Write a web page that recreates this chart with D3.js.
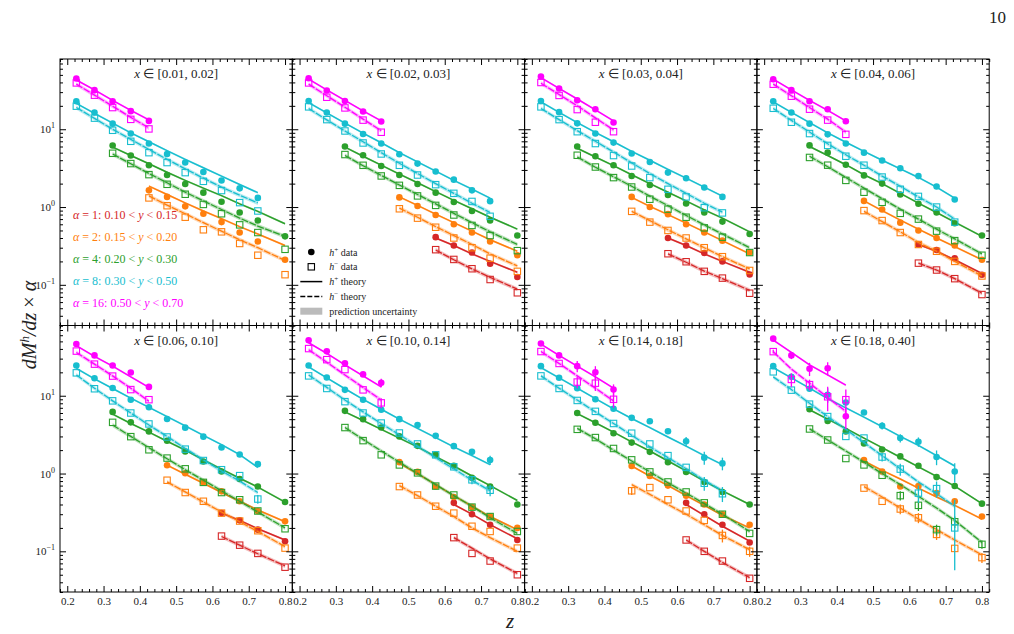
<!DOCTYPE html>
<html>
<head>
<meta charset="utf-8">
<script src="https://cdn.jsdelivr.net/npm/d3@7"></script>
<style>
  body { margin: 0; background: #fff; }
  svg text { font-family: "Liberation Serif", "Times New Roman", serif; fill: #222; }
</style>
</head>
<body>
<svg id="chart"></svg>
<script>
// z bin centres shared by all panels
const zBins = [0.225, 0.275, 0.325, 0.375, 0.425, 0.475, 0.525, 0.575, 0.625, 0.675, 0.725, 0.8];
const alphaColors = ["#d62728", "#ff7f0e", "#2ca02c", "#17becf", "#ff00ff"];
const alphaNames = ["1", "2", "4", "8", "16"];
const yLow = ["0.10", "0.15", "0.20", "0.30", "0.50"];
const yHigh = ["0.15", "0.20", "0.30", "0.50", "0.70"];
const panelTitles = ["[0.01, 0.02]", "[0.02, 0.03]", "[0.03, 0.04]", "[0.04, 0.06]",
                     "[0.06, 0.10]", "[0.10, 0.14]", "[0.14, 0.18]", "[0.18, 0.40]"];
const xTickLabels = ["0.2", "0.3", "0.4", "0.5", "0.6", "0.7", "0.8"];

// rows: [alpha index, first z bin, h+ data, h- data, h+ theory, h- theory, h+ err, h- err]
// an error entry is either a symmetric value or [down, up]
const panel1 = [
  [1, 4, [1.64,1.35,1.02,0.82,0.64,0.47,0.36,0.21], [1.31,1.04,0.74,0.51,0.48,0.34,0.24,0.135],
         [1.86,1.45,1.13,0.89,0.71,0.56,0.45,0.32], [1.39,1.06,0.82,0.63,0.49,0.38,0.30,0.206]],
  [2, 2, [6.17,4.59,3.44,2.58,1.98,1.53,1.17,0.85,0.67,0.42], [4.91,3.62,2.61,1.96,1.46,1.08,0.82,0.59,0.47,0.286],
         [5.9,4.6,3.6,2.8,2.2,1.75,1.4,1.1,0.88,0.61], [4.8,3.6,2.7,2.05,1.55,1.2,0.93,0.72,0.57,0.42]],
  [3, 0, [22.9,16.4,11.8,8.8,6.55,4.81,3.73,2.82,2.19,1.74,1.31], [19.8,13.9,9.7,7.0,5.0,3.73,2.77,2.14,1.63,1.14,0.89],
         [21.5,16.0,12.0,9.0,6.9,5.3,4.1,3.2,2.5,1.95,1.53], [19.0,13.8,10.0,7.4,5.5,4.1,3.1,2.35,1.8,1.42,1.13]],
  [4, 0, [44.9,31.8,22.9,17.1,12.8], [39.4,27.4,19.0,13.4,10.1],
         [43,32,23.5,17.5,13.2], [38,27.5,19.8,14.2,10.4]]
];
const panel2 = [
  [0, 7, [0.41,0.32,0.26,0.187,0.126], [0.283,0.212,0.161,0.117,0.079],
         [0.40,0.32,0.25,0.20,0.145], [0.28,0.21,0.16,0.125,0.088]],
  [1, 5, [1.33,1.03,0.79,0.60,0.47,0.36,0.24], [0.95,0.72,0.55,0.40,0.30,0.22,0.149],
         [1.35,1.05,0.81,0.63,0.49,0.38,0.27], [0.97,0.74,0.56,0.43,0.33,0.25,0.175]],
  [2, 2, [5.99,4.63,3.37,2.58,1.98,1.53,1.16,0.89,0.67,0.43], [4.73,3.44,2.51,1.90,1.39,1.05,0.79,0.58,0.43,0.275],
         [5.9,4.5,3.45,2.65,2.05,1.58,1.22,0.95,0.74,0.52], [4.6,3.4,2.55,1.92,1.45,1.1,0.83,0.63,0.48,0.33]],
  [3, 0, [23.1,16.4,11.8,8.7,6.55,4.77,3.62,2.86,2.25,1.64,1.19], [19.4,13.3,9.5,6.66,4.81,3.44,2.58,1.94,1.50,1.18,0.76],
         [22,16.2,12,8.9,6.7,5.0,3.8,2.9,2.2,1.7,1.3], [18.5,13.2,9.5,6.9,5.0,3.65,2.7,2.0,1.5,1.12,0.85]],
  [4, 0, [45.3,31.5,23.1,16.9,12.6], [39.4,25.8,18.8,13.1,9.15],
         [44,32,23.5,17.2,12.8], [38,27,19.2,13.5,9.6]]
];
const panel3 = [
  [0, 7, [0.40,0.32,0.256,0.20,0.136], [0.251,0.198,0.149,0.122,0.078],
         [0.40,0.32,0.25,0.20,0.145], [0.25,0.195,0.15,0.12,0.085]],
  [1, 5, [1.35,1.0,0.81,0.60,0.47,0.37,0.26], [0.88,0.64,0.50,0.40,0.30,0.23,0.153],
         [1.33,1.02,0.80,0.62,0.48,0.37,0.25], [0.88,0.67,0.51,0.39,0.30,0.23,0.16]],
  [2, 2, [5.99,4.49,3.44,2.51,1.92,1.43,1.11,0.85,0.65,0.45], [4.63,3.27,2.39,1.81,1.26,0.94,0.74,0.54,0.41,0.26],
         [5.7,4.4,3.4,2.6,2.0,1.55,1.2,0.92,0.72,0.48], [4.4,3.25,2.45,1.85,1.38,1.04,0.78,0.59,0.45,0.30]],
  [3, 0, [23.1,16.6,11.9,8.8,6.74,4.87,3.79,2.77,2.34,1.78,1.35], [19.4,13.3,9.3,6.55,4.59,3.37,2.39,1.69,1.35,0.98,0.84],
         [22.5,16.5,12.2,9.1,6.9,5.2,4.0,3.05,2.35,1.8,1.38], [18.5,13.3,9.6,7.0,5.1,3.7,2.7,2.0,1.5,1.12,0.86]],
  [4, 0, [47.7,33.4,23.6,18.1,12.2], [39.9,27.2,17.9,12.3,9.3],
         [46,33.5,24.5,17.8,12.8], [39,28,20,14,9.8]]
];
const panel4 = [
  [0, 8, [0.33,0.28,0.22,0.135], [0.19,0.155,0.12,0.075],
         [0.33,0.27,0.21,0.14], [0.19,0.155,0.12,0.078]],
  [1, 5, [1.2,0.93,0.63,0.5,0.4,0.32,0.21], [0.9,0.67,0.47,0.33,0.27,0.2,0.13],
         [1.2,0.9,0.68,0.52,0.4,0.31,0.21], [0.88,0.65,0.48,0.35,0.27,0.2,0.13]],
  [2, 2, [6.2,5.0,3.5,2.55,2.0,1.45,1.1,0.85,0.62,0.43], [4.34,3.45,2.2,1.55,1.15,0.83,0.70,0.49,0.37,0.24],
         [6.0,4.6,3.5,2.6,2.0,1.5,1.12,0.85,0.64,0.42], [4.5,3.3,2.4,1.75,1.28,0.94,0.7,0.52,0.39,0.25]],
  [3, 0, [22.9,16.4,11.8,8.6,6.55,5.0,3.97,3.15,2.5,1.84,1.25], [18.6,12.3,8.8,6.2,4.5,3.45,2.43,1.69,1.37,1.0,0.64],
         [22.5,16.5,12.2,9.0,6.8,5.2,4.0,3.1,2.4,1.8,1.3], [18.5,13,9.2,6.5,4.7,3.45,2.5,1.85,1.35,1.0,0.7]],
  [4, 0, [44,31.8,22.9,18.1,12.7], [37.9,26.6,18.1,13.1,8.6],
         [44,32,23.5,17.5,12.8], [38,27,19,13.5,9.2]]
];
const panel5 = [
  [0, 8, [0.31,0.25,0.19,0.135], [0.157,0.120,0.094,0.0625],
         [0.31,0.25,0.195,0.14], [0.155,0.12,0.093,0.065]],
  [1, 5, [1.28,1.01,0.77,0.59,0.44,0.33,0.243], [0.82,0.57,0.44,0.31,0.245,0.184,0.11],
         [1.28,0.98,0.75,0.57,0.44,0.34,0.24], [0.78,0.58,0.43,0.32,0.24,0.18,0.115]],
  [2, 2, [6.2,4.55,3.48,2.64,1.92,1.43,1.06,0.85,0.68,0.43], [4.55,2.98,2.02,1.58,1.15,0.77,0.57,0.46,0.33,0.195],
         [5.8,4.4,3.4,2.6,2.0,1.5,1.14,0.87,0.67,0.43], [4.2,3.0,2.15,1.55,1.12,0.82,0.6,0.44,0.32,0.2]],
  [3, 0, [24.5,16.8,12.6,8.9,7.1,5.03,3.89,2.98,2.16,1.76,1.32], [19.7,12.3,8.6,6.0,4.34,2.95,2.06,1.47,1.12,0.94,0.47],
         [22.5,16.5,12.4,9.3,7.1,5.4,4.1,3.1,2.35,1.75,1.2], [18.5,12.5,8.6,6.0,4.2,3.0,2.1,1.5,1.08,0.8,0.57],
         null, [0,0,0,0,0,0,0,0,0,0,0.06]],
  [4, 0, [46.2,33.0,24.5,19.9,13.0], [37.5,25.5,17.9,12.0,8.9],
         [44,32,24,17.5,12.8], [36,25.5,18,12.5,8.5]]
];
const panel6 = [
  [0, 8, [0.42,0.30,0.22,0.14], [0.15,0.094,0.075,0.05],
         [0.40,0.30,0.22,0.145], [0.15,0.11,0.08,0.052]],
  [1, 5, [1.4,1.05,0.68,0.5,0.37,0.28,0.2], [0.68,0.53,0.38,0.31,0.21,0.18,0.11],
         [1.35,1.0,0.72,0.52,0.38,0.28,0.19], [0.7,0.52,0.38,0.28,0.2,0.15,0.1]],
  [2, 2, [6.4,5.0,3.9,3.0,2.27,1.74,1.26,0.88,0.68,0.4], [3.9,2.65,1.74,1.29,1.02,0.69,0.53,0.37,0.28,0.18],
         [6.2,4.8,3.7,2.85,2.2,1.65,1.25,0.93,0.7,0.45], [3.9,2.75,1.95,1.4,1.0,0.72,0.52,0.38,0.27,0.17]],
  [3, 0, [24.5,17.2,11.9,8.9,6.6,5.0,4.2,3.05,2.25,1.9,1.49], [18.0,12.4,8.4,6.0,4.46,3.32,2.4,1.74,1.22,0.83,0.61],
         [23.5,17,12.3,9.0,6.7,5.0,3.8,2.9,2.2,1.7,1.3], [18.5,12.8,8.8,6.2,4.4,3.15,2.25,1.6,1.15,0.82,0.6],
         [0,0,0,0,0,0,0,0,0,0,0.2], [0,0,0,0,0,0,0,0,0,0.1,0.1]],
  [4, 0, [51.6,37.2,26.1,18.8,14.7], [40.4,29.1,21.7,11.9,8.1],
         [48,35,25,18,13], [39,27,18.5,12.8,8.8],
         [0,0,0,0,1.8], [0,0,0,0,1.2]]
];
const panel7 = [
  [0, 8, [0.42,0.30,0.22,0.13], [0.14,0.1,0.075,0.045],
         [0.40,0.29,0.21,0.135], [0.14,0.1,0.072,0.046]],
  [1, 5, [1.25,0.93,0.70,0.52,0.40,0.30,0.22], [0.6,0.66,0.46,0.33,0.25,0.16,0.1],
         [1.25,0.93,0.70,0.52,0.39,0.29,0.2], [0.72,0.54,0.4,0.3,0.22,0.16,0.105],
         null, [0.07,0,0,0,0,0.03,0.015]],
  [2, 2, [6.0,4.5,3.3,2.5,1.9,1.4,1.05,0.78,0.58,0.4], [3.7,2.9,2.1,1.5,1.05,0.78,0.58,0.42,0.3,0.17],
         [5.9,4.5,3.4,2.55,1.95,1.45,1.08,0.8,0.6,0.4], [3.8,2.8,2.0,1.45,1.05,0.76,0.56,0.41,0.3,0.18]],
  [3, 0, [24,17,12.5,9,6.8,5.2,4.7,3.5,2.6,1.6,1.35], [18,12.4,8.7,6.3,4.4,3.3,2.4,1.7,1.2,0.75,0.55],
         [23,17,12.5,9.2,6.8,5.1,3.9,2.95,2.25,1.7,1.3], [18,12.5,8.8,6.2,4.4,3.1,2.2,1.6,1.15,0.82,0.6],
         [0,0,0,0,0,0,0,0,0.35,0.3,0.25], [0,0,0,0,0,0,0,0,0,0.15,0.12]],
  [4, 0, [47,33,24,20,12], [37,26,15,14.5,9],
         [46,33,24,17.5,12.5], [37,26,18,12.5,8.6],
         [0,0,4,4,2], [0,0,2.5,3,2]]
];
const panel8 = [
  [1, 5, [1.49,1.06,0.68,0.69,0.56,0.44,0.28], [0.65,0.44,0.35,0.27,0.165,0.109,0.083],
         [1.45,1.1,0.85,0.65,0.5,0.39,0.26], [0.68,0.5,0.36,0.26,0.19,0.14,0.09],
         [0,0,0,0.07,0.06,0,0], [0,0,0.05,0.04,0.025,0,0.012]],
  [2, 2, [6.7,4.74,3.48,2.44,2.04,1.66,1.26,0.90,0.69,0.41], [3.74,2.70,1.56,1.29,0.95,0.52,0.39,0.19,0.24,0.123],
         [6.6,5.0,3.8,2.85,2.15,1.62,1.22,0.92,0.69,0.41], [3.75,2.7,1.95,1.4,1.0,0.72,0.51,0.36,0.25,0.13],
         null, [0,0,0,0,0,0.07,0.06,0.03,0.04,0.015]],
  [3, 0, [24.0,17.5,12.3,10.3,8.2,6.1,4.12,2.86,2.56,1.63,1.06], [20.3,11.8,7.8,5.4,3.0,2.86,1.63,1.14,0.56,0.64,0.20],
         [23,17,12.5,9.2,7.0,5.3,4.0,3.0,2.3,1.7,1.25], [17.5,12,8.0,5.4,3.7,2.5,1.7,1.15,0.78,0.55,0.38],
         [0,0,0,2.2,0,0,0.45,0.35,0.35,0.35,0.3], [0,0,0,0,0,0,0.2,0.2,0.14,0.15,[0.143,0.26]]],
  [4, 0, [54.2,33.0,22.2,22.6,5.44], [36.9,16.2,13.9,9.7,8.9],
         [52,36,25,18.5,13.7], [36.9,22,14.5,9.5,6.3],
         [2.5,3.4,4.3,4.4,1.7], [2,3.2,2.2,3.4,3.1]]
];
const panels = [panel1, panel2, panel3, panel4, panel5, panel6, panel7, panel8];

const W = 1014, H = 634;
const left0 = 60, top0 = 59, panelW = 232.3, panelH = 266.5;
const serif = "Liberation Serif, Times New Roman, serif";

const svg = d3.select("#chart").attr("width", W).attr("height", H)
  .style("background", "#fff");

const x = d3.scaleLinear().domain([0.18, 0.82]).range([0, panelW]);
const y = d3.scaleLog().domain([0.03, 80]).range([panelH, 0]);

const majorY = [0.1, 1, 10];
const minorY = [];
[0.01, 0.1, 1, 10].forEach(d => { for (let k = 2; k <= 9; k++) minorY.push(d * k); });
const minorYin = minorY.filter(v => v >= 0.03 && v <= 80);
const majorX = xTickLabels.map(Number);
const minorX = d3.range(0.18, 0.821, 0.02).map(v => +v.toFixed(2)).filter(v => !majorX.includes(v));

const supers = {"1": "1", "0": "0", "-1": "\u22121"};

function errBar(g, c, zx, v, e) {
  if (!e) return;
  const [dn, up] = Array.isArray(e) ? e : [e, e];
  g.append("line").attr("x1", zx).attr("x2", zx)
    .attr("y1", y(v + up)).attr("y2", y(Math.max(v - dn, 0.031)))
    .attr("stroke", c).attr("stroke-width", 1.3);
}

panels.forEach((rows, pi) => {
  const col = pi % 4, row = Math.floor(pi / 4);
  const g = svg.append("g")
    .attr("transform", `translate(${left0 + col * panelW},${top0 + row * panelH})`);

  // series
  rows.forEach(r => {
    const [a, s, hp, hm, tp, tm, ep, em] = r;
    const c = alphaColors[a];
    const zs = zBins.slice(s, s + hp.length);
    const band = d3.area().x((d, i) => x(zs[i]));
    g.append("path").datum(tp)
      .attr("d", band.y0(d => y(d * 0.97)).y1(d => y(d * 1.03)))
      .attr("fill", c).attr("opacity", 0.3);
    g.append("path").datum(tm)
      .attr("d", band.y0(d => y(d * 0.94)).y1(d => y(d * 1.06)))
      .attr("fill", c).attr("opacity", 0.3);
    const line = d3.line().x((d, i) => x(zs[i])).y(d => y(d));
    g.append("path").datum(tp).attr("d", line)
      .attr("fill", "none").attr("stroke", c).attr("stroke-width", 1.5);
    g.append("path").datum(tm).attr("d", line)
      .attr("fill", "none").attr("stroke", c).attr("stroke-width", 1.3)
      .attr("stroke-dasharray", "7,1.5");

    if (ep) ep.forEach((e, i) => errBar(g, c, x(zs[i]), hp[i], e));
    if (em) em.forEach((e, i) => errBar(g, c, x(zs[i]), hm[i], e));

    g.selectAll(null).data(hp).join("circle")
      .attr("cx", (d, i) => x(zs[i])).attr("cy", d => y(d))
      .attr("r", 3.3).attr("fill", c);
    g.selectAll(null).data(hm).join("rect")
      .attr("x", (d, i) => x(zs[i]) - 3.2).attr("y", d => y(d) - 3.2)
      .attr("width", 6.4).attr("height", 6.4)
      .attr("fill", "none").attr("stroke", c).attr("stroke-width", 1.1);
  });

  // frame
  g.append("rect").attr("width", panelW).attr("height", panelH)
    .attr("fill", "none").attr("stroke", "#000").attr("stroke-width", 1);

  // ticks, all pointing inward
  const addAxis = (axis, tr) => {
    const ax = g.append("g").attr("transform", tr).call(axis)
      .attr("font-family", serif);
    ax.select(".domain").remove();
    ax.selectAll(".tick line").attr("stroke", "#000");
    return ax;
  };
  addAxis(d3.axisLeft(y).tickValues(minorYin).tickSize(-3).tickFormat(""), "");
  addAxis(d3.axisRight(y).tickValues(minorYin).tickSize(-3).tickFormat(""), `translate(${panelW},0)`);
  addAxis(d3.axisRight(y).tickValues(majorY).tickSize(-6).tickFormat(""), `translate(${panelW},0)`);
  const yl = addAxis(d3.axisLeft(y).tickValues(majorY).tickSize(-6).tickPadding(5)
    .tickFormat(col === 0 ? d3.format("") : ""), "");
  if (col === 0) {
    yl.selectAll(".tick text").each(function (d) {
      const t = d3.select(this).text("").attr("font-size", 11).attr("fill", "#222");
      t.append("tspan").text("10");
      t.append("tspan").attr("dy", -5).attr("font-size", 8).text(supers[String(Math.round(Math.log10(d)))]);
    });
  }
  addAxis(d3.axisTop(x).tickValues(minorX).tickSize(-3).tickFormat(""), "");
  addAxis(d3.axisTop(x).tickValues(majorX).tickSize(-6).tickFormat(""), "");
  addAxis(d3.axisBottom(x).tickValues(minorX).tickSize(-3).tickFormat(""), `translate(0,${panelH})`);
  const xl = addAxis(d3.axisBottom(x).tickValues(majorX).tickSize(-6).tickPadding(5)
    .tickFormat(row === 1 ? d3.format(".1f") : ""), `translate(0,${panelH})`);
  xl.selectAll(".tick text").attr("font-size", 11).attr("fill", "#222");

  // panel title
  const tt = g.append("text").attr("x", panelW / 2).attr("y", 19)
    .attr("text-anchor", "middle").attr("font-size", 13).attr("font-family", serif);
  tt.append("tspan").attr("font-style", "italic").text("x");
  tt.append("tspan").text(" \u2208 " + panelTitles[pi]);
});

// alpha legend in the first panel
const leg = svg.append("g").attr("transform", `translate(${left0 + 13},219)`);
alphaNames.forEach((n, i) => {
  const t = leg.append("text").attr("y", i * 22).attr("font-size", 12)
    .attr("font-family", serif).style("fill", alphaColors[i]);
  t.append("tspan").attr("font-style", "italic").text("\u03b1");
  t.append("tspan").text(" = " + n + ": " + yLow[i] + " < ");
  t.append("tspan").attr("font-style", "italic").text("y");
  t.append("tspan").text(" < " + yHigh[i]);
});

// marker legend in the second panel
const lg = svg.append("g").attr("transform", `translate(${left0 + panelW},0)`);
const legItems = [["h", "+", " data"], ["h", "\u2212", " data"], ["h", "+", " theory"], ["h", "\u2212", " theory"], ["", "", "prediction uncertainty"]];
legItems.forEach((it, i) => {
  const yy = 252 + i * 14.8;
  if (i === 0) lg.append("circle").attr("cx", 19).attr("cy", yy).attr("r", 3.3).attr("fill", "#000");
  if (i === 1) lg.append("rect").attr("x", 15.8).attr("y", yy - 3.2).attr("width", 6.4).attr("height", 6.4)
    .attr("fill", "none").attr("stroke", "#000").attr("stroke-width", 1.1);
  if (i === 2) lg.append("line").attr("x1", 8).attr("x2", 30).attr("y1", yy).attr("y2", yy)
    .attr("stroke", "#000").attr("stroke-width", 1.5);
  if (i === 3) lg.append("line").attr("x1", 8).attr("x2", 30).attr("y1", yy).attr("y2", yy)
    .attr("stroke", "#000").attr("stroke-width", 1.5).attr("stroke-dasharray", "5,2");
  if (i === 4) lg.append("rect").attr("x", 8).attr("y", yy - 3.5).attr("width", 22).attr("height", 7)
    .attr("fill", "#bbb");
  const t = lg.append("text").attr("x", 37).attr("y", yy + 3.5).attr("font-size", 10)
    .attr("font-family", serif);
  if (it[0]) {
    t.append("tspan").attr("font-style", "italic").text(it[0]);
    t.append("tspan").attr("dy", -4).attr("font-size", 7).text(it[1]);
    t.append("tspan").attr("dy", 4).text(it[2]);
  } else t.text(it[2]);
});

// axis labels and page number
const yt = svg.append("text").attr("transform", "translate(36,325) rotate(-90)")
  .attr("text-anchor", "middle").attr("font-size", 20).attr("font-family", serif);
yt.append("tspan").attr("font-style", "italic").text("dM");
yt.append("tspan").attr("dy", -7).attr("font-size", 13).attr("font-style", "italic").text("h");
yt.append("tspan").attr("dy", 7).attr("font-style", "italic").text("/dz");
yt.append("tspan").text(" \u00d7 ");
yt.append("tspan").attr("font-style", "italic").text("\u03b1");

svg.append("text").attr("x", 510).attr("y", 628).attr("text-anchor", "middle")
  .attr("font-family", serif).attr("font-size", 21).attr("font-style", "italic").text("z");
svg.append("text").attr("x", 1006).attr("y", 23).attr("text-anchor", "end")
  .attr("font-family", serif).attr("font-size", 17).text("10");
</script>
</body>
</html>
